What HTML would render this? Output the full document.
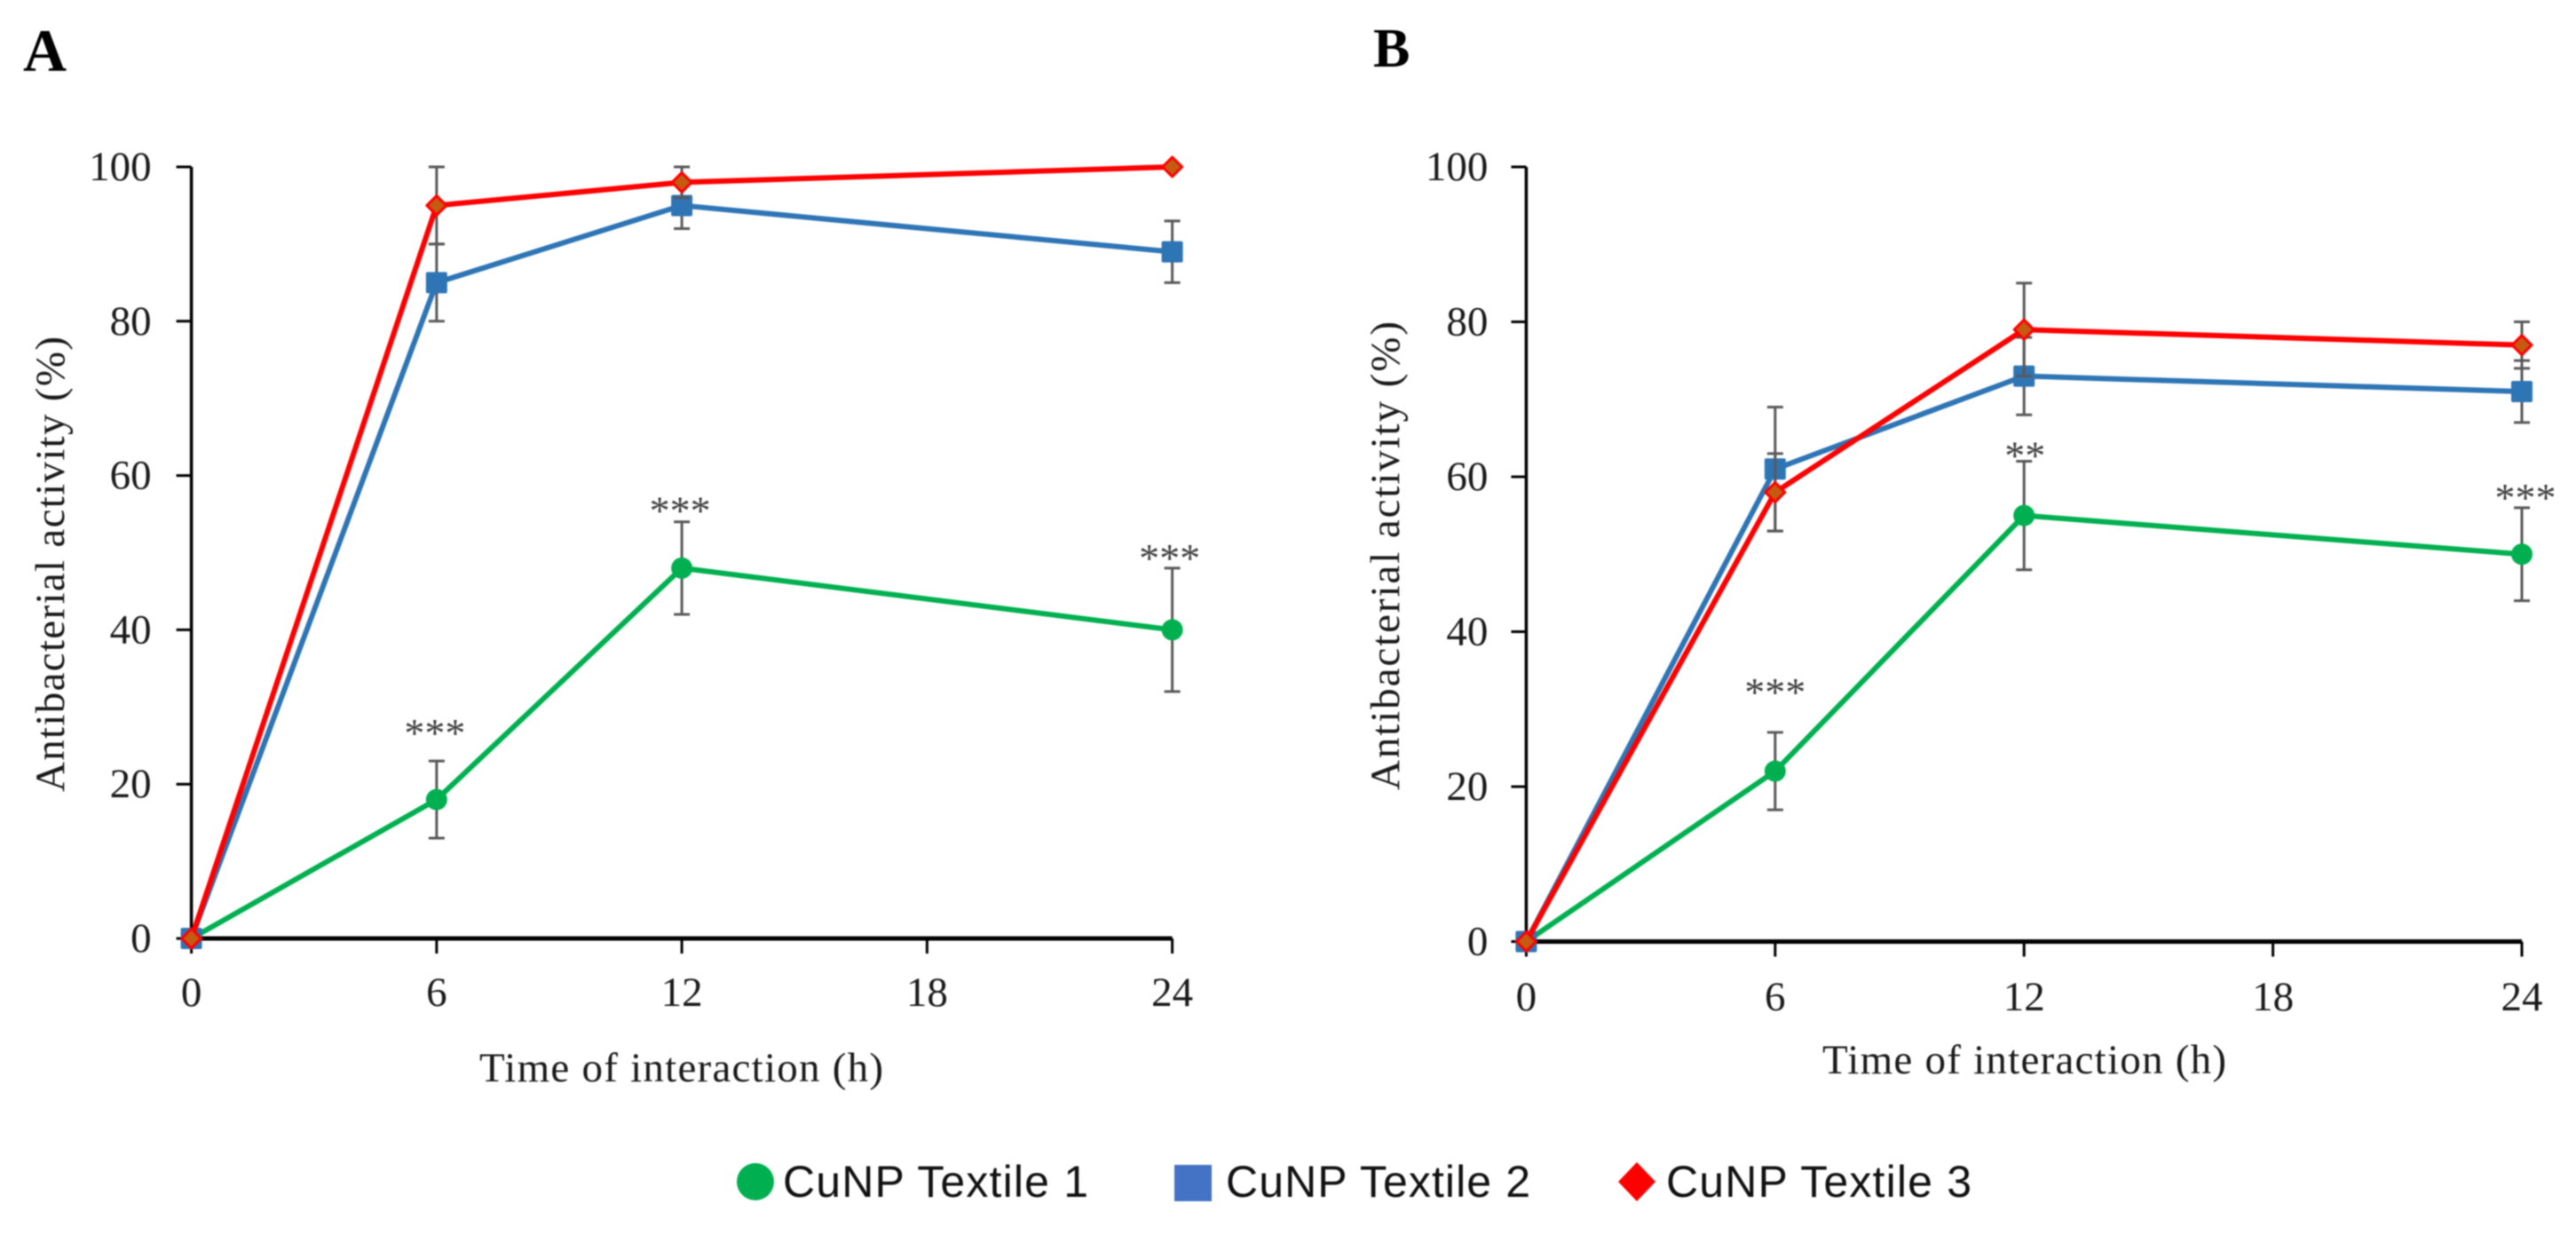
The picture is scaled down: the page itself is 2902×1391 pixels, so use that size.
<!DOCTYPE html>
<html lang="en">
<head>
<meta charset="utf-8">
<title>Antibacterial activity of CuNP textiles</title>
<style>
html,body{margin:0;padding:0;background:#fff;width:2902px;height:1391px;overflow:hidden}
svg{display:block;filter:blur(0.8px)}
text{font-family:"Liberation Serif",serif;fill:#1a1a1a}
</style>
</head>
<body>
<svg id="figure" xmlns="http://www.w3.org/2000/svg" width="2902" height="1391" viewBox="0 0 2902 1391">
  <rect width="2902" height="1391" fill="#fff"/>
  <text x="26" y="80" font-size="68" font-weight="bold" style="fill:#000">A</text>
  <text x="1547" y="75" font-size="62" font-weight="bold" style="fill:#000">B</text>
  <g id="panel-a"></g>
  <g id="panel-b"></g>
  <g font-size="50">
    <g>
      <circle cx="851" cy="1331" r="21" fill="#00b050"/>
      <text x="882" y="1348" textLength="344" style="font-family:'Liberation Sans',sans-serif;fill:#111">CuNP Textile 1</text>
    </g>
    <g>
      <rect x="1323" y="1312" width="42" height="41" fill="#4472c4"/>
      <text x="1381" y="1348" textLength="343" style="font-family:'Liberation Sans',sans-serif;fill:#111">CuNP Textile 2</text>
    </g>
    <g>
      <polygon points="1844,1309 1865,1331 1844,1353 1823,1331" fill="#ff0000"/>
      <text x="1877" y="1348" textLength="344" style="font-family:'Liberation Sans',sans-serif;fill:#111">CuNP Textile 3</text>
    </g>
  </g>
</svg>
<script>
// Shared axis data
const hours = [0, 6, 12, 24];
const xTickLabels = [0, 6, 12, 18, 24];
const yTickLabels = [0, 20, 40, 60, 80, 100];

// Panel A values
const aTextile1 = [0, 18, 48, 40];
const aTextile2 = [0, 85, 95, 89];
const aTextile3 = [0, 95, 98, 100];
const aError1 = [0, 5, 6, 8];
const aError2 = [0, 5, 3, 4];
const aError3 = [0, 5, 2, 0];
const aStars = ["", "***", "***", "***"];

// Panel B values
const bTextile1 = [0, 22, 55, 50];
const bTextile2 = [0, 61, 73, 71];
const bTextile3 = [0, 58, 79, 77];
const bError1 = [0, 5, 7, 6];
const bError2 = [0, 8, 5, 4];
const bError3 = [0, 5, 6, 3];
const bStars = ["", "***", "**", "***"];

const NS = 'http://www.w3.org/2000/svg';
function make(parent, tag, attrs, text) {
  const el = document.createElementNS(NS, tag);
  for (const k in attrs) el.setAttribute(k, attrs[k]);
  if (text !== undefined) el.textContent = text;
  parent.appendChild(el);
  return el;
}

function drawPanel(cfg) {
  const root = document.getElementById(cfg.id);
  const sx = h => cfg.x0 + (h / 24) * (cfg.x24 - cfg.x0);
  const sy = v => cfg.y0 + (v / 100) * (cfg.y100 - cfg.y0);

  const yAxis = make(root, 'line', {x1: sx(0), x2: sx(0), y1: sy(0), y2: sy(100), stroke: '#000', 'stroke-width': 3.5});
  
  
  const xAxis = make(root, 'line', {x1: sx(0), x2: sx(24), y1: sy(0), y2: sy(0), stroke: '#000', 'stroke-width': 5});
  
  

  yTickLabels.forEach(v => {
    const tick = make(root, 'line', {x1: sx(0) - 17, x2: sx(0), y1: sy(v), y2: sy(v), stroke: '#000', 'stroke-width': 3});
    
    
    const label = make(root, 'text', {x: sx(0) - cfg.yLabelGap, y: sy(v) + 15, 'text-anchor': 'end', 'font-size': 47}, v);
    
    
  });
  xTickLabels.forEach(h => {
    const tick = make(root, 'line', {x1: sx(h), x2: sx(h), y1: sy(0), y2: sy(0) + 17, stroke: '#000', 'stroke-width': 3});
    
    
    const label = make(root, 'text', {x: sx(h), y: cfg.xLabelBase, 'text-anchor': 'middle', 'font-size': 47}, h);
    
    
  });

  const xTitle = make(root, 'text', {x: cfg.xTitleX, y: cfg.xTitleY, 'font-size': 47, textLength: 455}, 'Time of interaction (h)');
  
  
  const yTitle = make(root, 'text', {transform: 'translate(' + cfg.yTitleX + ',' + cfg.yTitleBottom + ') rotate(-90)', 'font-size': 47, textLength: cfg.yTitleLength}, 'Antibacterial activity (%)');
  
  

  cfg.series.forEach(s => {
    const group = make(root, 'g', {});
    
    

    s.values.forEach((v, i) => {
      const e = s.errors[i];
      if (!e) return;
      const x = sx(hours[i]);
      const top = Math.min(v + e, 100);
      const bottom = v - e;
      const bar = make(group, 'path', {
        d: 'M' + x + ' ' + sy(top) + 'V' + sy(bottom) +
           'M' + (x - 9) + ' ' + sy(top) + 'H' + (x + 9) +
           'M' + (x - 9) + ' ' + sy(bottom) + 'H' + (x + 9),
        fill: 'none', stroke: '#595959', 'stroke-width': 3
      });
      
      
    });

    const line = make(group, 'polyline', {
      points: s.values.map((v, i) => sx(hours[i]) + ',' + sy(v)).join(' '),
      fill: 'none', stroke: s.color, 'stroke-width': 6, 'stroke-linejoin': 'round'
    });
    
    

    s.values.forEach((v, i) => {
      const x = sx(hours[i]);
      const y = sy(v);
      let m;
      if (s.shape === 'circle') {
        m = make(group, 'circle', {cx: x, cy: y, r: 12, fill: s.color});
      } else if (s.shape === 'square') {
        m = make(group, 'rect', {x: x - 12, y: y - 12, width: 24, height: 24, rx: 2, fill: s.color});
      } else {
        m = make(group, 'polygon', {
          points: x + ',' + (y - 11) + ' ' + (x + 11) + ',' + y + ' ' + x + ',' + (y + 11) + ' ' + (x - 11) + ',' + y,
          fill: '#c55a11', stroke: '#ff0000', 'stroke-width': 3, 'stroke-linejoin': 'round'
        });
      }
      
      
    });
  });

  const first = cfg.series[0];
  cfg.stars.forEach((label, i) => {
    if (!label) return;
    const top = first.values[i] + first.errors[i];
    const star = make(root, 'text', {
      x: sx(hours[i]) + cfg.starDx[i],
      y: sy(top) - cfg.starLift[i],
      'text-anchor': 'middle', 'font-size': 46
    }, label);
    star.style.fill = '#404040';
    
    
  });
}

drawPanel({
  id: 'panel-a', x0: 215.6, x24: 1320.6, y0: 1057, y100: 188,
  yLabelGap: 45, xLabelBase: 1133,
  xTitleX: 540, xTitleY: 1218,
  yTitleX: 72, yTitleBottom: 892, yTitleLength: 513,
  stars: aStars, starDx: [0, -2, -2, -3], starLift: [0, 16, -3, -4],
  series: [
    {name: 'textile-1', color: '#00b050', shape: 'circle', values: aTextile1, errors: aError1},
    {name: 'textile-2', color: '#2e75b6', shape: 'square', values: aTextile2, errors: aError2},
    {name: 'textile-3', color: '#ff0000', shape: 'diamond', values: aTextile3, errors: aError3}
  ]
});

drawPanel({
  id: 'panel-b', x0: 1719.4, x24: 2841, y0: 1060.5, y100: 188,
  yLabelGap: 43, xLabelBase: 1138,
  xTitleX: 2053, xTitleY: 1209,
  yTitleX: 1576, yTitleBottom: 890, yTitleLength: 528,
  stars: bStars, starDx: [0, 0, 1, 4], starLift: [0, 30, -9, -4],
  series: [
    {name: 'textile-1', color: '#00b050', shape: 'circle', values: bTextile1, errors: bError1},
    {name: 'textile-2', color: '#2e75b6', shape: 'square', values: bTextile2, errors: bError2},
    {name: 'textile-3', color: '#ff0000', shape: 'diamond', values: bTextile3, errors: bError3}
  ]
});
</script>
</body>
</html>
